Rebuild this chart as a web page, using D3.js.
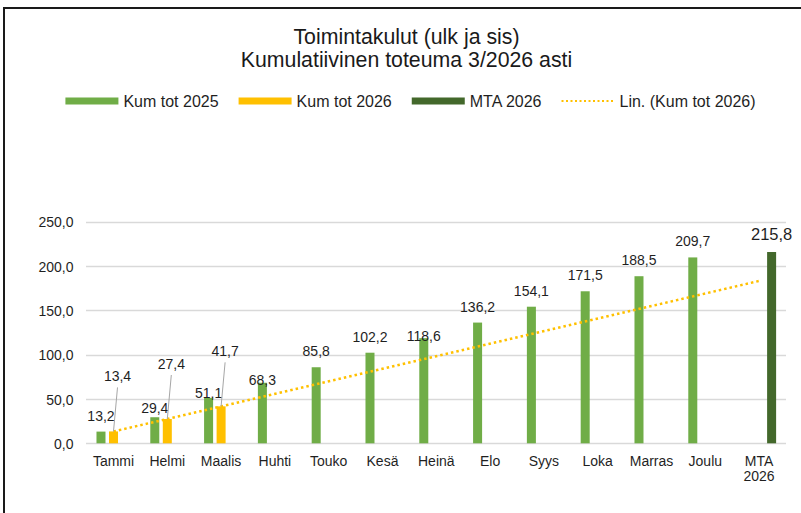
<!DOCTYPE html>
<html>
<head>
<meta charset="utf-8">
<script src="https://cdn.jsdelivr.net/npm/d3@7/dist/d3.min.js"></script>
<style>
  body { margin: 0; background: #fff; }
  text { font-family: "Liberation Sans", Arial, sans-serif; }
</style>
</head>
<body>
<div id="chart"></div>
<script>

// categories and series
var months = ['Tammi', 'Helmi', 'Maalis', 'Huhti', 'Touko', 'Kesä', 'Heinä', 'Elo', 'Syys', 'Loka', 'Marras', 'Joulu', 'MTA 2026'];
var kum2025 = [13.2, 29.4, 51.1, 68.3, 85.8, 102.2, 118.6, 136.2, 154.1, 171.5, 188.5, 209.7, null];
var kum2026 = [13.4, 27.4, 41.7, null, null, null, null, null, null, null, null, null, null];
var mta2026 = [null, null, null, null, null, null, null, null, null, null, null, null, 215.8];
var yTicks = [0, 50, 100, 150, 200, 250];
var seriesNames = ['Kum tot 2025', 'Kum tot 2026', 'MTA 2026'];

var width = 801,
    height = 513;

var colors = { 'Kum tot 2025': '#70ad47', 'Kum tot 2026': '#ffc000', 'MTA 2026': '#43682b' };

// label lift above bar top (px), some labels were dragged in the original
var liftDefault = 11;
var liftAdjust = { 'Helmi': 4, 'Maalis': 0, 'Huhti': -2, 'Heinä': -3 };

var fi = d3.formatLocale({ decimal: ',', thousands: '\u00a0', grouping: [3], currency: ['', '€'] });
var fmt = fi.format('.1f');

var svg = d3.select('#chart')
  .append('svg')
  .attr('width', width)
  .attr('height', height);

svg.append('rect')
  .attr('width', width)
  .attr('height', height)
  .attr('fill', '#fff');

// frame (only left and top edges visible)
svg.append('path')
  .attr('d', 'M4,' + height + 'V8H' + width)
  .attr('fill', 'none')
  .attr('stroke', '#1a1a1a')
  .attr('stroke-width', 2);

// title
var title = svg.append('text')
  .attr('text-anchor', 'middle')
  .attr('fill', '#1a1a1a')
  .style('font-size', '21.3px');
title.append('tspan').attr('x', 406.5).attr('y', 44).text('Toimintakulut (ulk ja sis)');
title.append('tspan').attr('x', 406.5).attr('y', 67).text('Kumulatiivinen toteuma 3/2026 asti');

// scales
var x = d3.scaleBand()
  .domain(months)
  .range([86.6, 786]);

var xs = d3.scaleBand()
  .domain(seriesNames)
  .range([0, x.bandwidth()])
  .paddingInner(0.28)
  .paddingOuter(0.79);

var y = d3.scaleLinear()
  .domain([0, 250])
  .range([443.3, 221.7]);

// gridlines
svg.append('g')
  .selectAll('line')
  .data(yTicks)
  .enter()
  .append('line')
  .attr('x1', 86)
  .attr('x2', 786)
  .attr('y1', function(d) { return Math.round(y(d)) + 0.5; })
  .attr('y2', function(d) { return Math.round(y(d)) + 0.5; })
  .attr('stroke', '#d9d9d9')
  .attr('stroke-width', 1.3);

// y axis labels
var yAxis = svg.append('g')
  .attr('transform', 'translate(73.5,0)')
  .call(d3.axisLeft(y).tickValues(yTicks).tickFormat(fmt).tickSize(0).tickPadding(0));
yAxis.select('.domain').remove();
yAxis.selectAll('text')
  .attr('fill', '#1f1f1f')
  .attr('dy', '0.36em')
  .style('font-size', '14px');

// x axis labels
var xAxis = svg.append('g');
xAxis.selectAll('text')
  .data(months)
  .enter()
  .append('text')
  .attr('text-anchor', 'middle')
  .attr('fill', '#1f1f1f')
  .style('font-size', '14px')
  .each(function(d) {
    var t = d3.select(this);
    var parts = d.split(' ');
    parts.forEach(function(p, i) {
      t.append('tspan')
        .attr('x', x(d) + x.bandwidth() / 2)
        .attr('y', 466 + i * 15)
        .text(p);
    });
  });

// bars
var rows = [];
months.forEach(function(m, i) {
  [kum2025, kum2026, mta2026].forEach(function(arr, s) {
    if (arr[i] != null)
      rows.push({ month: m, series: seriesNames[s], value: arr[i] });
  });
});

svg.append('g')
  .selectAll('rect')
  .data(rows)
  .enter()
  .append('rect')
  .attr('x', function(d) { return x(d.month) + xs(d.series); })
  .attr('y', function(d) { return y(d.value); })
  .attr('width', xs.bandwidth())
  .attr('height', function(d) { return y(0) - y(d.value); })
  .attr('fill', function(d) { return colors[d.series]; });

// trendline (linear fit of Kum tot 2026)
var pts = [];
kum2026.forEach(function(v, i) { if (v != null) pts.push([i, v]); });
var mx = d3.mean(pts, function(p) { return p[0]; }),
    my = d3.mean(pts, function(p) { return p[1]; });
var slope = d3.sum(pts, function(p) { return (p[0] - mx) * (p[1] - my); }) /
            d3.sum(pts, function(p) { return (p[0] - mx) * (p[0] - mx); });
var icpt = my - slope * mx;
var trend = [0, months.length - 1].map(function(i) { return [i, icpt + slope * i]; });

svg.append('path')
  .datum(trend)
  .attr('d', d3.line()
    .x(function(d) { return x(months[d[0]]) + x.bandwidth() / 2; })
    .y(function(d) { return y(d[1]); }))
  .attr('fill', 'none')
  .attr('stroke', '#ffc000')
  .attr('stroke-width', 2.5)
  .attr('stroke-dasharray', '2.5,3');

// data labels
var labels = svg.append('g');

rows.forEach(function(d) {
  var cx = x(d.month) + xs(d.series) + xs.bandwidth() / 2;
  var top = y(d.value);
  if (d.series === 'Kum tot 2026') {
    var lx = cx + 4, ly = top - 50;
    labels.append('line')
      .attr('x1', lx)
      .attr('y1', ly + 6)
      .attr('x2', cx)
      .attr('y2', top)
      .attr('stroke', '#a6a6a6')
      .attr('stroke-width', 1);
    labels.append('text')
      .attr('x', lx)
      .attr('y', ly)
      .attr('text-anchor', 'middle')
      .attr('fill', '#1f1f1f')
      .style('font-size', '14px')
      .text(fmt(d.value));
  } else {
    var lift = d.series === 'MTA 2026' ? 12 :
      (liftAdjust[d.month] != null ? liftAdjust[d.month] : liftDefault);
    labels.append('text')
      .attr('x', cx)
      .attr('y', top - lift)
      .attr('text-anchor', 'middle')
      .attr('fill', '#1f1f1f')
      .style('font-size', d.series === 'MTA 2026' ? '16.5px' : '14px')
      .text(fmt(d.value));
  }
});

// legend
var legend = svg.append('g').attr('class', 'legend');
var legendItems = [
  { name: 'Kum tot 2025', type: 'bar' },
  { name: 'Kum tot 2026', type: 'bar' },
  { name: 'MTA 2026', type: 'bar' },
  { name: 'Lin. (Kum tot 2026)', type: 'trend' }
];
var lx0 = 0;
legendItems.forEach(function(it) {
  var g = legend.append('g').attr('transform', 'translate(' + lx0 + ',0)');
  if (it.type === 'bar') {
    g.append('rect')
      .attr('x', 0).attr('y', -3.5)
      .attr('width', 53).attr('height', 7)
      .attr('fill', colors[it.name]);
  } else {
    g.append('line')
      .attr('x1', 0).attr('x2', 53)
      .attr('y1', 0).attr('y2', 0)
      .attr('stroke', '#ffc000')
      .attr('stroke-width', 2)
      .attr('stroke-dasharray', '2,2.5');
  }
  var t = g.append('text')
    .attr('x', 58)
    .attr('y', 5.5)
    .attr('fill', '#1f1f1f')
    .style('font-size', '16px')
    .text(it.name);
  lx0 += 58 + t.node().getComputedTextLength() + 20;
});
var lw = lx0 - 20;
legend.attr('transform', 'translate(' + (410.5 - lw / 2) + ',101)');

</script>
</body>
</html>
